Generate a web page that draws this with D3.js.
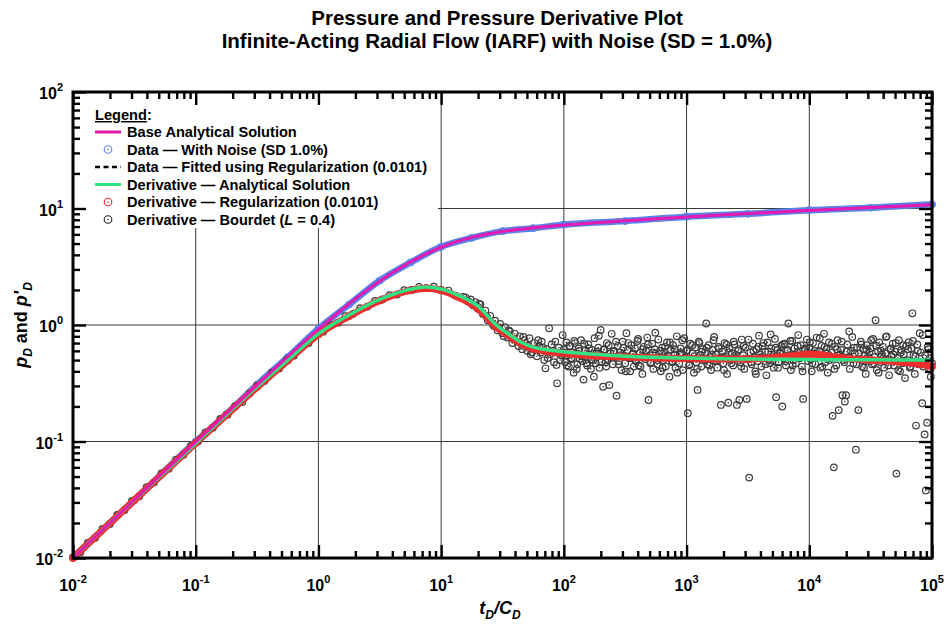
<!DOCTYPE html>
<html><head><meta charset="utf-8">
<script src="https://cdn.jsdelivr.net/npm/d3@7"></script>
<style>
body{margin:0;background:#fff}
svg{display:block}
text{font-family:"Liberation Sans",Arial,sans-serif;font-weight:bold;fill:#000}
</style>
</head><body><svg id="c" width="947" height="630"></svg>
<script>
// ---------- data ----------
const titleLines = ["Pressure and Pressure Derivative Plot", "Infinite-Acting Radial Flow (IARF) with Noise (SD = 1.0%)"];
const xMajor = [1e-2, 1e-1, 1e0, 1e1, 1e2, 1e3, 1e4, 1e5];
const xExp = ["-2", "-1", "0", "1", "2", "3", "4", "5"];
const yMajor = [1e-2, 1e-1, 1e0, 1e1, 1e2];
const yExp = ["-2", "-1", "0", "1", "2"];
const legendLabels = ["Base Analytical Solution", "Data \u2014 With Noise (SD 1.0%)", "Data \u2014 Fitted using Regularization (0.0101)",
  "Derivative \u2014 Analytical Solution", "Derivative \u2014 Regularization (0.0101)", "Derivative \u2014 Bourdet (L = 0.4)"];

// base analytical pD (log10 tD/CD, pD)
const baseLogT = [-2, -1.5, -1, -0.75, -0.5, -0.25, 0, 0.25, 0.5, 0.75, 1, 1.25, 1.5, 1.75, 2, 2.5, 3, 3.5, 4, 4.5, 5];
const basePD = [0.01, 0.0316, 0.099, 0.174, 0.305, 0.535, 0.92, 1.52, 2.38, 3.47, 4.65, 5.65, 6.35, 6.82, 7.2, 7.84, 8.45, 9.04, 9.62, 10.2, 10.78];
// noisy data (same times)
const noisyPD = [0.0101, 0.0313, 0.1, 0.172, 0.308, 0.53, 0.93, 1.50, 2.41, 3.44, 4.69, 5.6, 6.39, 6.78, 7.26, 7.8, 8.5, 9.0, 9.68, 10.15, 10.85];
// fitted data (regularization)
const fitPD = [0.01, 0.0316, 0.099, 0.174, 0.305, 0.535, 0.92, 1.52, 2.38, 3.47, 4.65, 5.64, 6.35, 6.82, 7.2, 7.84, 8.45, 9.04, 9.62, 10.2, 10.78];

// analytical derivative
const derivLogT = [-2, -1.5, -1, -0.75, -0.5, -0.25, 0, 0.25, 0.5, 0.75, 0.875, 1, 1.15, 1.3, 1.45, 1.584, 1.665, 1.75, 1.85, 2, 2.25, 2.5, 3, 3.5, 4, 4.5, 5];
const derivVals = [0.01, 0.0315, 0.096, 0.17, 0.295, 0.5, 0.84, 1.22, 1.66, 2.03, 2.12, 2.04, 1.78, 1.45, 1.0, 0.79, 0.7, 0.645, 0.615, 0.59, 0.56, 0.54, 0.52, 0.51, 0.505, 0.502, 0.5];

// regularization derivative
const regLogT = [-2, -1.5, -1, -0.75, -0.5, -0.25, 0, 0.25, 0.5, 0.75, 0.875, 1, 1.15, 1.3, 1.45, 1.584, 1.665, 1.75, 1.85, 2, 2.25, 2.5, 2.75, 3, 3.25, 3.5, 3.75, 3.9, 4, 4.1, 4.25, 4.5, 4.75, 4.9, 5];
const regVals = [0.01, 0.0314, 0.097, 0.169, 0.293, 0.495, 0.83, 1.19, 1.62, 1.98, 2.07, 1.98, 1.72, 1.38, 0.96, 0.765, 0.68, 0.625, 0.595, 0.57, 0.545, 0.53, 0.52, 0.515, 0.51, 0.51, 0.53, 0.55, 0.56, 0.553, 0.525, 0.5, 0.48, 0.46, 0.44];

// Bourdet derivative, early samples (log t from -2.00 every 0.06)
const bourdetEarlyStart = -2.0, bourdetEarlyStep = 0.06;
const bourdetEarly = [0.0101, 0.0112, 0.0135, 0.0149, 0.0178, 0.0196, 0.0234, 0.0258, 0.0309, 0.0339, 0.0405, 0.0446, 0.0533, 0.0585,
  0.0700, 0.0770, 0.0915, 0.1005, 0.1200, 0.1310, 0.1560, 0.1700, 0.2010, 0.2180, 0.2590, 0.300, 0.330, 0.389, 0.424, 0.502, 0.545,
  0.642, 0.699, 0.823, 0.876, 0.995, 1.048, 1.190, 1.240, 1.392, 1.440, 1.612, 1.655, 1.805, 1.825, 1.990, 2.000, 2.125, 2.075,
  2.130, 2.000, 1.975, 1.780, 1.745];
// Bourdet derivative, transition (log t, value)
const bourdetMid = [[1.20, 1.72], [1.22, 1.60], [1.24, 1.66], [1.26, 1.48], [1.28, 1.57], [1.30, 1.38], [1.32, 1.50], [1.34, 1.24], [1.36, 1.33],
  [1.38, 1.10], [1.40, 1.20], [1.42, 1.02], [1.44, 1.09], [1.46, 0.90], [1.48, 1.02], [1.50, 0.85], [1.52, 0.96], [1.54, 0.78], [1.56, 0.88],
  [1.58, 0.70], [1.60, 0.84], [1.62, 0.72], [1.64, 0.80], [1.66, 0.62], [1.68, 0.74], [1.70, 0.60], [1.72, 0.77], [1.74, 0.58], [1.76, 0.70],
  [1.78, 0.54], [1.80, 0.66], [1.82, 0.72], [1.84, 0.50], [1.85, 0.425], [1.86, 0.62], [1.88, 0.937], [1.89, 0.56], [1.90, 0.68], [1.92, 0.48],
  [1.94, 0.454], [1.945, 0.316], [1.96, 0.64], [1.98, 0.55], [1.99, 0.82],
  [1.31, 1.52], [1.37, 1.18], [1.43, 0.98], [1.47, 0.95], [1.51, 0.80], [1.55, 0.90], [1.59, 0.76], [1.63, 0.66], [1.67, 0.79], [1.71, 0.66],
  [1.73, 0.56], [1.77, 0.63], [1.79, 0.74], [1.81, 0.58], [1.83, 0.64], [1.87, 0.52], [1.91, 0.60], [1.93, 0.72], [1.95, 0.58], [1.97, 0.50]];
// Bourdet derivative, late samples (log t from 2.00 every 0.01)
const bourdetLateStart = 2.0, bourdetLateStep = 0.01;
const bourdetLate = [
  0.62, 0.48, 0.71, 0.55, 0.44, 0.66, 0.52, 0.58, 0.39, 0.70,
  0.57, 0.46, 0.63, 0.51, 0.74, 0.49, 0.34, 0.60, 0.53, 0.45,
  0.68, 0.56, 0.42, 0.61, 0.50, 0.77, 0.47, 0.59, 0.64, 0.43,
  0.906, 0.55, 0.295, 0.62, 0.48, 0.70, 0.51, 0.305, 0.57, 0.84,
  0.46, 0.60, 0.53, 0.247, 0.66, 0.49, 0.58, 0.41, 0.72, 0.54,
  0.47, 0.85, 0.61, 0.52, 0.40, 0.67, 0.56, 0.44, 0.63, 0.50,
  0.73, 0.45, 0.58, 0.53, 0.38, 0.65, 0.51, 0.60, 0.78, 0.227,
  0.55, 0.48, 0.69, 0.42, 0.62, 0.57, 0.46, 0.75, 0.52, 0.40,
  0.64, 0.50, 0.59, 0.44, 0.71, 0.54, 0.36, 0.61, 0.49, 0.67,
  0.56, 0.43, 0.80, 0.52, 0.47, 0.63, 0.58, 0.41, 0.77, 0.53,
  0.60, 0.175, 0.45, 0.69, 0.51, 0.57, 0.39, 0.64, 0.48, 0.277,
  0.72, 0.55, 0.44, 0.62, 0.50, 0.58, 1.03, 0.46, 0.67, 0.53,
  0.41, 0.61, 0.74, 0.49, 0.56, 0.43, 0.65, 0.52, 0.206, 0.59,
  0.47, 0.70, 0.54, 0.38, 0.215, 0.63, 0.50, 0.57, 0.45, 0.68,
  0.52, 0.206, 0.60, 0.227, 0.48, 0.75, 0.55, 0.42, 0.64, 0.232,
  0.51, 0.049, 0.58, 0.46, 0.69, 0.53, 0.40, 0.62, 0.49, 0.81,
  0.56, 0.44, 0.66, 0.52, 0.59, 0.37, 0.71, 0.50, 0.47, 0.63,
  0.54, 0.43, 0.76, 0.24, 0.61, 0.48, 0.57, 0.66, 0.20, 0.52,
  0.69, 0.45, 0.60, 1.03, 0.55, 0.41, 0.73, 0.50, 0.63, 0.47,
  0.58, 0.82, 0.52, 0.67, 0.44, 0.232, 0.61, 0.55, 0.75, 0.49,
  0.64, 0.51, 0.40, 0.70, 0.57, 0.46, 0.78, 0.53, 0.60, 0.43,
  0.66, 0.55, 0.84, 0.48, 0.62, 0.39, 0.71, 0.52, 0.58, 0.166,
  0.060, 0.65, 0.45, 0.74, 0.186, 0.56, 0.61, 0.25, 0.50, 0.22,
  0.25, 0.68, 0.53, 0.42, 0.60, 0.79, 0.47, 0.57, 0.085, 0.64,
  0.186, 0.51, 0.72, 0.44, 0.62, 0.55, 0.38, 0.67, 0.49, 0.58,
  0.63, 0.46, 0.76, 0.53, 1.10, 0.41, 0.60, 0.71, 0.48, 0.56,
  0.65, 0.43, 0.57, 0.80, 0.50, 0.37, 0.62, 0.54, 0.69, 0.45,
  0.59, 0.053, 0.52, 0.74, 0.40, 0.61, 0.47, 0.56, 0.35, 0.66,
  0.50, 0.71, 0.43, 0.63, 1.26, 0.55, 0.38, 0.137, 0.68, 0.46,
  0.85, 0.58, 0.213, 0.44, 0.115, 0.038, 0.145, 0.62, 0.52, 0.36,
  0.47];
// Bourdet derivative, late samples, second interleaved set (log t from 2.005 every 0.02)
const bourdetLate2Start = 2.005, bourdetLate2Step = 0.02;
const bourdetLate2 = [
  0.58, 0.45, 0.66, 0.51, 0.73, 0.42, 0.60, 0.54, 0.69, 0.47,
  0.63, 0.50, 0.36, 0.57, 0.81, 0.48, 0.61, 0.44, 0.67, 0.53,
  0.59, 0.72, 0.46, 0.55, 0.64, 0.40, 0.70, 0.52, 0.57, 0.49,
  0.76, 0.44, 0.62, 0.53, 0.68, 0.47, 0.58, 0.86, 0.50, 0.60,
  0.43, 0.65, 0.55, 0.71, 0.48, 0.62, 0.39, 0.57, 0.74, 0.52,
  0.61, 0.46, 0.67, 0.54, 0.42, 0.70, 0.59, 0.50, 0.64, 0.45,
  0.56, 0.79, 0.49, 0.63, 0.53, 0.41, 0.68, 0.58, 0.47, 0.72,
  0.55, 0.62, 0.44, 0.66, 0.51, 0.75, 0.48, 0.60, 0.38, 0.65,
  0.53, 0.70, 0.46, 0.59, 0.83, 0.50, 0.64, 0.43, 0.57, 0.68,
  0.49, 0.61, 0.73, 0.45, 0.56, 0.66, 0.52, 0.40, 0.63, 0.58,
  0.71, 0.47, 0.60, 0.54, 0.77, 0.44, 0.65, 0.57, 0.50, 0.69,
  0.42, 0.62, 0.55, 0.72, 0.48, 0.59, 0.88, 0.51, 0.64, 0.46,
  0.57, 0.68, 0.43, 0.61, 0.53, 0.74, 0.47, 0.66, 0.39, 0.60,
  0.52, 0.79, 0.45, 0.63, 0.56, 0.70, 0.41, 0.58, 0.67, 0.49,
  0.62, 0.44, 0.73, 0.54, 0.60, 0.48, 0.82, 0.55, 0.65, 0.42];

// ---------- chart ----------
const svg = d3.select("#c");
const L = 73, R = 932, T = 92, B = 558;
const x = d3.scaleLog().domain([1e-2, 1e5]).range([L, R]);
const y = d3.scaleLog().domain([1e-2, 1e2]).range([B, T]);

const C = {magenta: "#e619b0", blue: "#5a80ea", green: "#2fe385", red: "#ee2e2e", bourdet: "#3c3c3c"};

// title
svg.append("g").selectAll("text").data(titleLines).join("text")
  .attr("x", 497).attr("y", (d, i) => 25 + i * 23).attr("text-anchor", "middle")
  .attr("font-size", 20.5).text(d => d);

// grid
const grid = svg.append("g");
grid.selectAll(".vg").data(xMajor.slice(1, -1)).join("line")
  .attr("x1", d => x(d)).attr("x2", d => x(d)).attr("y1", T).attr("y2", B)
  .attr("stroke", "#3a3a3a").attr("stroke-width", 1);
grid.selectAll(".hg").data(yMajor.slice(1, -1)).join("line")
  .attr("x1", L).attr("x2", R).attr("y1", d => y(d)).attr("y2", d => y(d))
  .attr("stroke", "#3a3a3a").attr("stroke-width", 1);

// legend background
svg.append("rect").attr("x", L + 3).attr("y", T + 3).attr("width", 362).attr("height", 133).attr("fill", "#fff");

// helpers
const pts = (lt, v) => lt.map((t, i) => [Math.pow(10, t), v[i]]);
const line = d3.line().x(d => x(d[0])).y(d => y(d[1])).curve(d3.curveMonotoneX);
function dotCircles(g, data, color, r, sw) {
  const s = g.append("g");
  s.selectAll("circle.o").data(data).join("circle")
    .attr("cx", d => x(d[0])).attr("cy", d => y(d[1])).attr("r", r)
    .attr("fill", "none").attr("stroke", color).attr("stroke-width", sw);
  s.selectAll("circle.c").data(data).join("circle")
    .attr("cx", d => x(d[0])).attr("cy", d => y(d[1])).attr("r", 0.8)
    .attr("fill", color);
}

const plot = svg.append("g");

// noisy data (dense markers -> band)
const noisyData = pts(baseLogT, noisyPD);
plot.append("path").datum(noisyData).attr("d", line).attr("fill", "none")
  .attr("stroke", C.blue).attr("stroke-width", 6.5).attr("stroke-linecap", "round");
dotCircles(plot, noisyData, C.blue, 3.3, 1.1);

// fitted data (dashed)
plot.append("path").datum(pts(baseLogT, fitPD)).attr("d", line).attr("fill", "none")
  .attr("stroke", "#000").attr("stroke-width", 2).attr("stroke-dasharray", "6,4");

// Bourdet derivative
const bourdetData = [];
bourdetEarly.forEach((v, i) => bourdetData.push([Math.pow(10, bourdetEarlyStart + i * bourdetEarlyStep), v]));
bourdetMid.forEach(d => bourdetData.push([Math.pow(10, d[0]), d[1]]));
bourdetLate.forEach((v, i) => bourdetData.push([Math.pow(10, bourdetLateStart + i * bourdetLateStep), v]));
bourdetLate2.forEach((v, i) => bourdetData.push([Math.pow(10, bourdetLate2Start + i * bourdetLate2Step), v]));
dotCircles(plot, bourdetData, C.bourdet, 3.3, 1.2);

// regularization derivative (dense markers -> band)
const regData = pts(regLogT, regVals);
plot.append("path").datum(regData).attr("d", line).attr("fill", "none")
  .attr("stroke", C.red).attr("stroke-width", 7).attr("stroke-linecap", "round");
dotCircles(plot, regData, C.red, 3.3, 1.1);

// analytical derivative
plot.append("path").datum(pts(derivLogT, derivVals)).attr("d", line).attr("fill", "none")
  .attr("stroke", C.green).attr("stroke-width", 3.5);

// base analytical
plot.append("path").datum(pts(baseLogT, basePD)).attr("d", line).attr("fill", "none")
  .attr("stroke", C.magenta).attr("stroke-width", 3);

// axes (ticks inward on all four sides)
const xMinor = x.ticks().filter(v => !xMajor.some(m => Math.abs(m - v) / m < 1e-6));
const yMinor = y.ticks().filter(v => !yMajor.some(m => Math.abs(m - v) / m < 1e-6));
function axisG(gen, tr) {
  const g = svg.append("g").attr("transform", tr).call(gen);
  g.select(".domain").remove();
  g.selectAll(".tick line").attr("stroke", "#000").attr("stroke-width", 2.4);
  g.selectAll(".tick text").remove();
  return g;
}
axisG(d3.axisBottom(x).tickValues(xMajor).tickSize(-13), `translate(0,${B})`);
axisG(d3.axisBottom(x).tickValues(xMinor).tickSize(-7), `translate(0,${B})`);
axisG(d3.axisTop(x).tickValues(xMajor).tickSize(-13), `translate(0,${T})`);
axisG(d3.axisTop(x).tickValues(xMinor).tickSize(-7), `translate(0,${T})`);
axisG(d3.axisLeft(y).tickValues(yMajor).tickSize(-13), `translate(${L},0)`);
axisG(d3.axisLeft(y).tickValues(yMinor).tickSize(-7), `translate(${L},0)`);
axisG(d3.axisRight(y).tickValues(yMajor).tickSize(-13), `translate(${R},0)`);
axisG(d3.axisRight(y).tickValues(yMinor).tickSize(-7), `translate(${R},0)`);

// frame
svg.append("rect").attr("x", L).attr("y", T).attr("width", R - L).attr("height", B - T)
  .attr("fill", "none").attr("stroke", "#000").attr("stroke-width", 3);

// tick labels
const xl = svg.append("g").selectAll("text").data(xMajor).join("text")
  .attr("x", d => x(d)).attr("y", B + 33).attr("text-anchor", "middle").attr("font-size", 16);
xl.append("tspan").text("10");
xl.append("tspan").attr("dy", -8).attr("font-size", 11).text((d, i) => xExp[i]);

const yl = svg.append("g").selectAll("text").data(yMajor).join("text")
  .attr("x", 63).attr("y", d => y(d) + 7).attr("text-anchor", "end").attr("font-size", 16);
yl.append("tspan").text("10");
yl.append("tspan").attr("dy", -8).attr("font-size", 11).text((d, i) => yExp[i]);

// axis titles
const xt = svg.append("text").attr("x", 500).attr("y", 614).attr("text-anchor", "middle").attr("font-size", 18).attr("font-style", "italic");
xt.append("tspan").text("t");
xt.append("tspan").attr("dy", 5).attr("font-size", 12).text("D");
xt.append("tspan").attr("dy", -5).text("/C");
xt.append("tspan").attr("dy", 5).attr("font-size", 12).text("D");

const yt = svg.append("text").attr("transform", "translate(27,325) rotate(-90)").attr("text-anchor", "middle").attr("font-size", 18);
yt.append("tspan").attr("font-style", "italic").text("p");
yt.append("tspan").attr("dy", 5).attr("font-size", 12).attr("font-style", "italic").text("D");
yt.append("tspan").attr("dy", -5).text(" and ");
yt.append("tspan").attr("font-style", "italic").text("p'");
yt.append("tspan").attr("dy", 5).attr("font-size", 12).attr("font-style", "italic").text("D");

// legend
const lg = svg.append("g").attr("font-size", 14.6);
const lt = lg.append("text").attr("x", 95).attr("y", 120);
lt.append("tspan").attr("text-decoration", "underline").text("Legend");
lt.append("tspan").text(":");
const rowY = i => 132 + i * 17.5;
legendLabels.forEach((lab, i) => {
  const t = lg.append("text").attr("x", 127).attr("y", rowY(i) + 5);
  if (lab.indexOf("(L = ") >= 0) {
    const parts = lab.split("L = ");
    t.append("tspan").text(parts[0]);
    t.append("tspan").attr("font-style", "italic").text("L");
    t.append("tspan").text(" = " + parts[1]);
  } else t.text(lab);
});
lg.append("line").attr("x1", 95).attr("x2", 121).attr("y1", rowY(0)).attr("y2", rowY(0)).attr("stroke", C.magenta).attr("stroke-width", 3);
lg.append("line").attr("x1", 95).attr("x2", 121).attr("y1", rowY(2)).attr("y2", rowY(2)).attr("stroke", "#000").attr("stroke-width", 2.5).attr("stroke-dasharray", "5,3.5");
lg.append("line").attr("x1", 95).attr("x2", 121).attr("y1", rowY(3)).attr("y2", rowY(3)).attr("stroke", C.green).attr("stroke-width", 3);
[[1, C.blue], [4, C.red], [5, "#222"]].forEach(([i, col]) => {
  lg.append("circle").attr("cx", 108).attr("cy", rowY(i)).attr("r", 3.8).attr("fill", "none").attr("stroke", col).attr("stroke-width", 1.1);
  lg.append("circle").attr("cx", 108).attr("cy", rowY(i)).attr("r", 0.8).attr("fill", col);
});
</script>
</body></html>
